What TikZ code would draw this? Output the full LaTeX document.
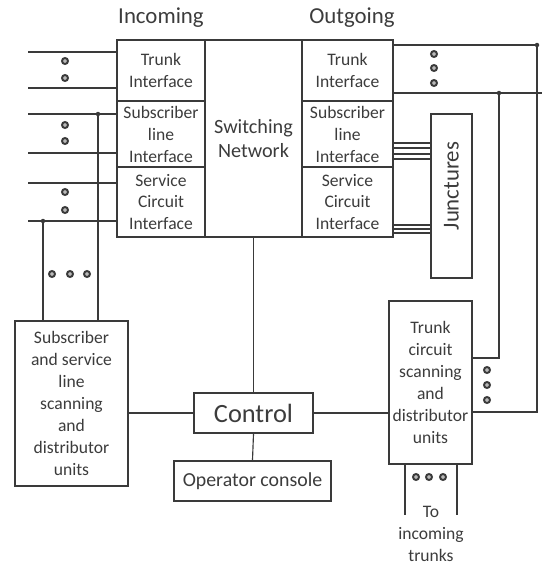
\documentclass[tikz,border=0pt]{standalone}
\usepackage{fontspec}
\setmainfont{Carlito}
\usepackage{xcolor}
\usepackage{tikz}
\usetikzlibrary{positioning}
\definecolor{lgray}{HTML}{3A3A3A}
\definecolor{tgray}{HTML}{3C3C3C}

\begin{document}
\begin{tikzpicture}[x=0.02cm, y=-0.02cm,
  box/.style={draw=lgray, line width=1.1pt, fill=white, inner sep=0pt, align=center,
    text=tgray, font=\fontsize{10}{12.5}\selectfont},
  wire/.style={draw=lgray, line width=0.65pt},
  ring/.style={draw=lgray, line width=1.1pt, fill=gray!55},
  title/.style={text=tgray, font=\fontsize{13}{15}\selectfont}]
\useasboundingbox (0,0) rectangle (542,569);
% column headings
\node[title] (inlbl) at (161,18) {Incoming};
\node[title] (outlbl) at (352,18) {Outgoing};
% interface block
\node[box, minimum width=1.76cm, minimum height=1.22cm] (trunkin) at (161,70.5) {Trunk\\Interface};
\node[box, minimum width=1.76cm, minimum height=1.32cm] (subin) at (161,134) {Subscriber\\line\\Interface};
\node[box, minimum width=1.76cm, minimum height=1.40cm] (servin) at (161,202) {Service\\Circuit\\Interface};
\node[box, minimum width=1.94cm, minimum height=3.94cm, font=\fontsize{11.5}{14}\selectfont] (switch) at (253.5,138.5) {Switching\\Network};
\node[box, minimum width=1.82cm, minimum height=1.22cm] (trunkout) at (347.5,70.5) {Trunk\\Interface};
\node[box, minimum width=1.82cm, minimum height=1.32cm] (subout) at (347.5,134) {Subscriber\\line\\Interface};
\node[box, minimum width=1.82cm, minimum height=1.40cm] (servout) at (347.5,202) {Service\\Circuit\\Interface};
\node[box, minimum width=0.82cm, minimum height=3.28cm, font=\fontsize{13}{15}\selectfont] (junc) at (451.5,196) {\rotatebox{90}{\hspace{0.4cm}Junctures}};
% lower units
\node[box, minimum width=2.26cm, minimum height=3.30cm] (scan) at (71.5,403.5) {Subscriber\\and service\\line\\scanning\\and\\distributor\\units};
\node[box, minimum width=2.38cm, minimum height=0.80cm, font=\fontsize{15}{17}\selectfont] (control) at (253.5,413) {Control};
\node[box, minimum width=3.14cm, minimum height=0.80cm, font=\fontsize{11.3}{13}\selectfont] (console) at (252.5,481) {Operator console};
\node[box, minimum width=1.66cm, minimum height=3.26cm] (tscan) at (430.5,382.5) {Trunk\\circuit\\scanning\\and\\distributor\\units};
\node[text=tgray, align=center, font=\fontsize{10}{12.5}\selectfont] (tolbl) at (431,534) {To\\incoming\\trunks};

% incoming lines
\foreach \y/\b [count=\i] in {52/trunkin, 88/trunkin, 114/subin, 153/subin, 183/servin, 221/servin} {
  \coordinate (lin\i) at (28,\y);
  \draw[wire] (lin\i) -- (lin\i -| \b.west);
}
\coordinate (sj) at (98,114);
\coordinate (cj) at (43,221);
\draw[wire] (sj) -- (sj |- scan.north);
\draw[wire] (cj) -- (cj |- scan.north);
\fill[lgray] (sj) circle[radius=0.045cm] (cj) circle[radius=0.045cm];

% outgoing lines
\coordinate (rt) at (537,45);
\coordinate (rtb) at (537,412);
\draw[wire] (rt -| trunkout.east) -- (rt) -- (rtb) -- (rtb -| tscan.east);
\coordinate (rm) at (542,93);
\draw[wire] (rm -| trunkout.east) -- (rm);
\coordinate (rj) at (499,93);
\coordinate (rjb) at (499,358);
\draw[wire] (rj) -- (rjb) -- (rjb -| tscan.east);
\fill[lgray] (rt) circle[radius=0.045cm] (rj) circle[radius=0.045cm];

% junctures
\foreach \y in {143,148,154,159}
  \draw[wire] (subout.east |- 0,\y) -- (junc.west |- 0,\y);
\foreach \y in {225,229,233}
  \draw[wire] (servout.east |- 0,\y) -- (junc.west |- 0,\y);

% control connections
\draw[wire] (switch.south) -- (control.north);
\draw[wire] (control.south) -- (console.north);
\draw[wire] (scan.east |- control.west) -- (control.west);
\draw[wire] (control.east) -- (tscan.west |- control.east);
\coordinate (tb1) at (405,515);
\coordinate (tb2) at (457,515);
\draw[wire] (tb1 |- tscan.south) -- (tb1);
\draw[wire] (tb2 |- tscan.south) -- (tb2);

% continuation dots
\foreach \p in {(65,61),(65,78),(65,125),(65,141),(65,192),(65,210),
                (52,274),(70,274),(87,274),
                (434,54),(434,68),(434,83),
                (487,370),(487,385),(487,400),
                (416,477),(429,477),(443,477)}
  \draw[ring] \p circle[radius=0.06cm];
\end{tikzpicture}
\end{document}
